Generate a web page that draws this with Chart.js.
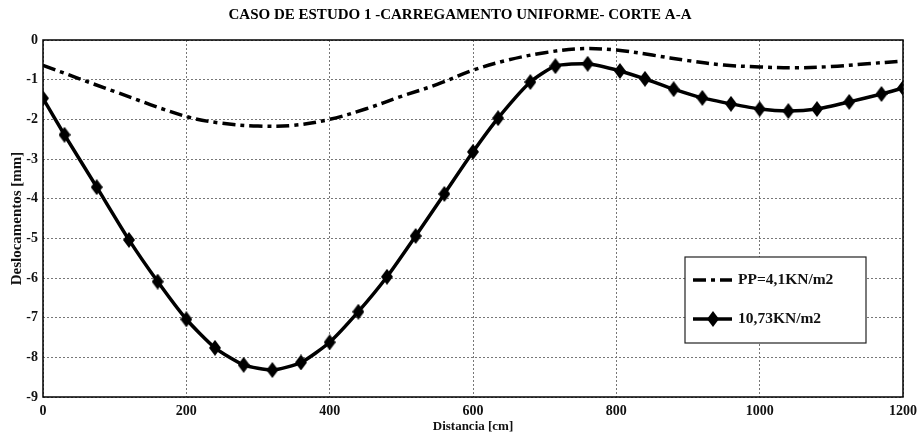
<!DOCTYPE html>
<html>
<head>
<meta charset="utf-8">
<title>Caso de estudo 1</title>
<script src="https://cdn.jsdelivr.net/npm/chart.js"></script>
<style>
  html, body { margin: 0; padding: 0; background: #fff; }
  #wrap { width: 919px; height: 434px; }
</style>
</head>
<body>
<div id="wrap"><canvas id="chart"></canvas></div>
<script>
// dados
const xPP = [0, 100, 200, 250, 300, 350, 400, 450, 500, 550, 600, 650, 700, 750, 800, 850, 900, 950, 1000, 1050, 1100, 1150, 1200];
const yPP = [-0.64, -1.3, -1.93, -2.1, -2.17, -2.15, -2.0, -1.74, -1.42, -1.12, -0.76, -0.5, -0.32, -0.22, -0.25, -0.38, -0.52, -0.63, -0.68, -0.7, -0.67, -0.6, -0.53];

const xQ = [0, 30, 75, 120, 160, 200, 240, 280, 320, 360, 400, 440, 480, 520, 560, 600, 635, 680, 715, 760, 805, 840, 880, 920, 960, 1000, 1040, 1080, 1125, 1170, 1200];
const yQ = [-1.47, -2.39, -3.71, -5.04, -6.09, -7.04, -7.76, -8.19, -8.32, -8.13, -7.62, -6.85, -5.97, -4.94, -3.88, -2.82, -1.97, -1.06, -0.66, -0.6, -0.78, -0.98, -1.24, -1.46, -1.61, -1.74, -1.79, -1.74, -1.56, -1.36, -1.21];

const labels = ['PP=4,1KN/m2', '10,73KN/m2'];
const chartTitle = 'CASO DE ESTUDO 1 -CARREGAMENTO UNIFORME- CORTE A-A';
const serif = "'Liberation Serif', 'Times New Roman', serif";

const toPts = (xs, ys) => xs.map((x, i) => ({ x: x, y: ys[i] }));

// marcador losango (mais alto que largo, estilo matlab)
const diamond = document.createElement('canvas');
diamond.width = 12;
diamond.height = 16;
(function () {
  const c = diamond.getContext('2d');
  c.fillStyle = '#000';
  c.beginPath();
  c.moveTo(6, 0);
  c.lineTo(12, 8);
  c.lineTo(6, 16);
  c.lineTo(0, 8);
  c.closePath();
  c.fill();
})();

// moldura + titulo centrado na area do grafico
const frame = {
  id: 'frame',
  afterDatasetsDraw(chart) {
    const a = chart.chartArea, c = chart.ctx;
    c.save();
    c.strokeStyle = '#000';
    c.lineWidth = 1.5;
    c.strokeRect(a.left, a.top, a.right - a.left, a.bottom - a.top);
    c.fillStyle = '#000';
    c.font = 'bold 15px ' + serif;
    c.textAlign = 'center';
    c.textBaseline = 'middle';
    c.fillText(chartTitle, (a.left + a.right) / 2 - 13, 15);
    c.restore();
  }
};

// legenda dentro da área do gráfico
const innerLegend = {
  id: 'innerLegend',
  afterDraw(chart) {
    const a = chart.chartArea, c = chart.ctx;
    const bx = a.right - 218, by = a.top + 217, bw = 181, bh = 86;
    c.save();
    c.fillStyle = '#fff';
    c.fillRect(bx, by, bw, bh);
    c.strokeStyle = '#222';
    c.lineWidth = 1.2;
    c.strokeRect(bx, by, bw, bh);
    c.font = 'bold 15.5px ' + serif;
    c.textBaseline = 'middle';
    chart.data.datasets.forEach((ds, i) => {
      const y = by + 23 + i * 39;
      c.strokeStyle = ds.borderColor;
      c.lineWidth = ds.borderWidth;
      c.setLineDash(ds.borderDash || []);
      c.beginPath();
      c.moveTo(bx + 8, y);
      c.lineTo(bx + 47, y);
      c.stroke();
      c.setLineDash([]);
      if (ds.pointRadius > 0) {
        c.drawImage(diamond, bx + 22, y - 8);
      }
      c.fillStyle = '#111';
      c.fillText(ds.label, bx + 53, y);
    });
    c.restore();
  }
};

new Chart(document.getElementById('chart'), {
  type: 'line',
  data: {
    datasets: [
      {
        label: labels[0],
        data: toPts(xPP, yPP),
        borderColor: '#000',
        borderWidth: 3.5,
        borderDash: [13, 5, 4, 5],
        pointRadius: 0,
        tension: 0.35,
        fill: false
      },
      {
        label: labels[1],
        data: toPts(xQ, yQ),
        borderColor: '#000',
        backgroundColor: '#000',
        borderWidth: 3.5,
        pointStyle: diamond,
        pointRadius: 6,
        tension: 0.2,
        fill: false
      }
    ]
  },
  options: {
    responsive: true,
    maintainAspectRatio: false,
    animation: false,
    layout: { padding: { left: 0, right: 16, top: 40, bottom: 0 } },
    plugins: {
      legend: { display: false },
      tooltip: { enabled: false },
      title: { display: false }
    },
    scales: {
      x: {
        type: 'linear',
        min: 0,
        max: 1200,
        ticks: {
          stepSize: 200,
          color: '#111',
          padding: 6,
          callback: v => String(v),
          font: { family: serif, size: 14, weight: 'bold' }
        },
        grid: { color: '#777', lineWidth: 1, drawTicks: false },
        border: { display: false, dash: [2, 2] },
        title: {
          display: true,
          text: 'Distancia [cm]',
          color: '#111',
          padding: { top: 0, bottom: 0 },
          font: { family: serif, size: 13, weight: 'bold' }
        },
        afterFit(s) { s.height = 37; s.paddingLeft = 0; s.paddingRight = 0; }
      },
      y: {
        min: -9,
        max: 0,
        ticks: {
          stepSize: 1,
          color: '#111',
          padding: 5,
          callback: v => String(v),
          font: { family: serif, size: 14, weight: 'bold' }
        },
        grid: { color: '#777', lineWidth: 1, drawTicks: false },
        border: { display: false, dash: [2, 2] },
        title: {
          display: true,
          text: 'Deslocamentos [mm]',
          color: '#111',
          padding: { top: 8, bottom: 0 },
          font: { family: serif, size: 15, weight: 'bold' }
        },
        afterFit(s) { s.width = 43; }
      }
    }
  },
  plugins: [frame, innerLegend]
});
</script>
</body>
</html>
